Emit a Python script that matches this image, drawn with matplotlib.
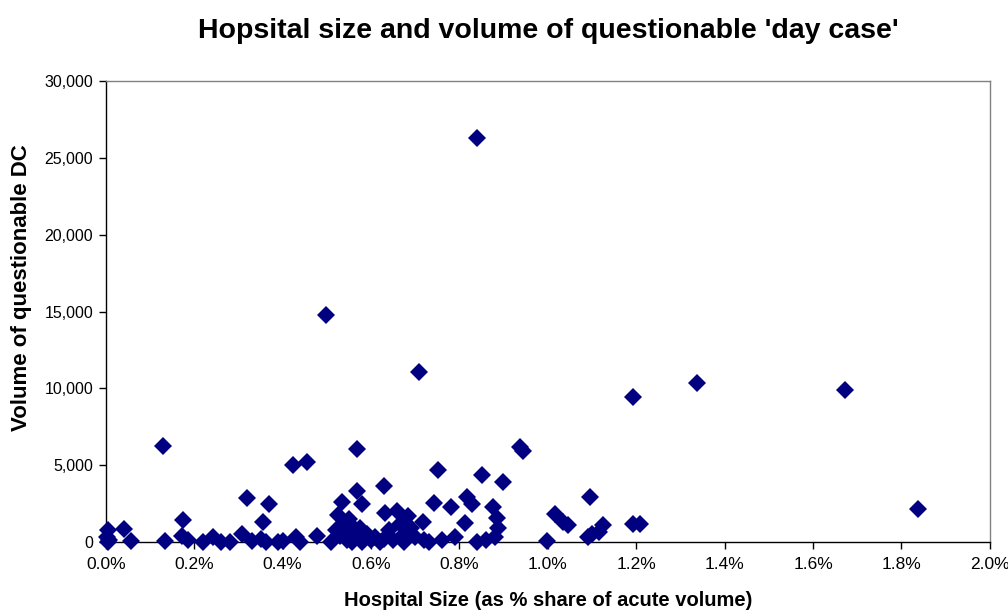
import matplotlib
matplotlib.use("Agg")
import matplotlib.pyplot as plt
from matplotlib.ticker import FuncFormatter, MultipleLocator

plt.rcParams['font.family'] = ['Liberation Sans', 'DejaVu Sans']

title = "Hopsital size and volume of questionable 'day case'"
x_label = "Hospital Size (as % share of acute volume)"
y_label = "Volume of questionable DC"

hospital_size_pct = [
    0.005, 0.002, 0.008, 0.004, 0.040, 0.057, 0.129, 0.133, 0.174, 0.172,
    0.186, 0.219, 0.242, 0.260, 0.280, 0.308, 0.319, 0.330, 0.350, 0.355,
    0.369, 0.362, 0.390, 0.400, 0.423, 0.430, 0.440, 0.455, 0.477, 0.498,
    0.510, 0.520, 0.525, 0.534, 0.530, 0.540, 0.545, 0.550, 0.553, 0.556,
    0.560, 0.565, 0.568, 0.568, 0.579, 0.575, 0.580, 0.590, 0.600, 0.610,
    0.620, 0.630, 0.631, 0.630, 0.640, 0.650, 0.658, 0.665, 0.670, 0.675,
    0.683, 0.690, 0.700, 0.708, 0.717, 0.720, 0.730, 0.742, 0.751, 0.760,
    0.780, 0.790, 0.812, 0.817, 0.828, 0.839, 0.840, 0.851, 0.860, 0.877,
    0.885, 0.887, 0.880, 0.898, 0.937, 0.943, 0.998, 1.016, 1.034, 1.045,
    1.090, 1.095, 1.100, 1.115, 1.124, 1.192, 1.192, 1.208, 1.337, 1.672,
    1.837,
]
questionable_dc = [
    750, 350, 100, 0, 850, 50, 6250, 50, 1400, 400,
    100, 0, 350, 0, 0, 550, 2850, 50, 200, 1300,
    2450, 0, 0, 50, 5000, 300, 0, 5200, 400, 14800,
    0, 800, 1750, 2600, 400, 1200, 100, 1500, 700, 0,
    1000, 300, 6050, 3350, 2450, 900, 0, 500, 100, 300,
    0, 3650, 1900, 200, 800, 100, 2000, 1200, 400, 0,
    1700, 900, 300, 11100, 1300, 100, 0, 2550, 4700, 100,
    2300, 300, 1250, 2900, 2500, 26300, 0, 4350, 100, 2300,
    1550, 900, 300, 3900, 6200, 5900, 50, 1800, 1300, 1100,
    300, 2900, 500, 650, 1100, 9450, 1200, 1200, 10350, 9900,
    2150,
]

fig = plt.figure(figsize=(10.08, 6.11), dpi=100)
ax = fig.add_axes([0.105, 0.113, 0.877, 0.754])

ax.plot(hospital_size_pct, questionable_dc, linestyle='none', marker='D',
        markersize=9.5, color='#000080', markeredgewidth=0, clip_on=False, zorder=3)

ax.set_xlim(0, 2.0)
ax.set_ylim(0, 30000)
ax.xaxis.set_major_locator(MultipleLocator(0.2))
ax.yaxis.set_major_locator(MultipleLocator(5000))
ax.xaxis.set_major_formatter(FuncFormatter(lambda v, p: f"{v:.1f}%"))
ax.yaxis.set_major_formatter(FuncFormatter(lambda v, p: f"{int(round(v)):,}"))

for s in ['top', 'right']:
    ax.spines[s].set_color('#808080')
    ax.spines[s].set_linewidth(1.0)
for s in ['left', 'bottom']:
    ax.spines[s].set_color('black')
    ax.spines[s].set_linewidth(1.0)

ax.tick_params(axis='both', direction='out', length=5, width=1, colors='black')
ax.tick_params(axis='x', labelsize=12.5, pad=6)
ax.tick_params(axis='y', labelsize=11.5, pad=4)

fig.text(0.544, 0.950, title, fontsize=20.5, fontweight='bold', ha='center', va='center')
fig.text(0.544, 0.018, x_label, fontsize=14.5, fontweight='bold', ha='center', va='center')
fig.text(0.021, 0.53, y_label, fontsize=16, fontweight='bold', ha='center', va='center',
         rotation=90)

fig.savefig("out.png", dpi=100, facecolor='white')
